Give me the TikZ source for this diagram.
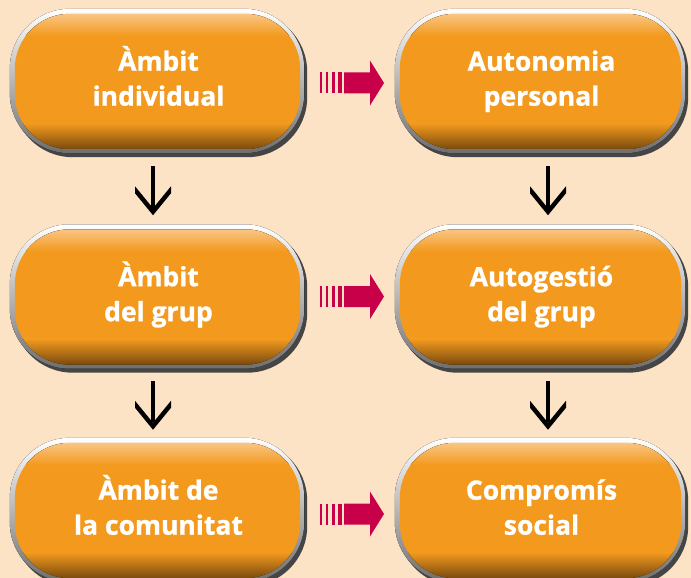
\documentclass[tikz,border=0pt]{standalone}
\usepackage{fontspec}
\setmainfont{Open Sans}
\newfontfamily\lblfont{Open Sans Bold}[FakeBold=1]
\usetikzlibrary{calc}
\pgfdeclarelayer{bg}
\pgfsetlayers{bg,main}
\definecolor{bgc}{HTML}{FDE3C5}
\definecolor{orC}{HTML}{F39A1E}
\definecolor{orL}{HTML}{F9C584}
\definecolor{orD}{HTML}{7A4A0E}
\definecolor{bdark}{HTML}{454545}
\definecolor{bgray}{HTML}{6E6E6E}
\definecolor{arrred}{HTML}{C8004A}
\newcommand\pillbg[1]{%
  \fill[bdark, rounded corners=60pt] ($(#1.north west)+(3,3)$) rectangle (#1.south east);
  \fill[top color=white, middle color=white, bottom color=bgray, rounded corners=60pt]
    (#1.north west) rectangle ($(#1.south east)+(-3,-4)$);
  \begin{scope}
    \clip[rounded corners=55pt] ($(#1.north west)+(5,5)$) rectangle ($(#1.south east)+(-7,-8)$);
    \fill[orC] (#1.north west) rectangle (#1.south east);
    \fill[top color=orL, bottom color=orC] ($(#1.north west)+(0,5)$) rectangle ($(#1.north east)+(0,27)$);
    \fill[top color=orC, bottom color=orD] ($(#1.south west)+(0,-34)$) rectangle ($(#1.south east)+(0,-8)$);
  \end{scope}}
\begin{document}
\begin{tikzpicture}[x=1pt,y=-1pt,
  pill/.style={rectangle, minimum width=297pt, minimum height=148pt, inner sep=0pt},
  pillB/.style={pill, minimum width=293pt},
  lbl/.style={text=white, font=\lblfont\fontsize{26.5}{35}\selectfont, align=center, inner sep=0pt},
  downarr/.pic={
    \fill[black] (-2,-24.5) rectangle (2,17);
    \fill[black] (-18,2.5) -- (0,24.5) -- (18,2.5) -- (18,-4.5) -- (0,17.5) -- (-18,-4.5) -- cycle;
  },
  redarr/.pic={
    \fill[arrred] (-32,-10.5) rectangle (-29.6,10.5);
    \fill[arrred] (-26.3,-10.5) rectangle (-23.6,10.5);
    \fill[arrred] (-20.2,-10.5) rectangle (-17.1,10.5);
    \fill[arrred] (-14,-10.5) rectangle (-9.7,10.5);
    \fill[arrred] (-8,-10.5) -- (18,-10.5) -- (18,-22.5) -- (32,0) -- (18,22.5) -- (18,10.5) -- (-8,10.5) -- cycle;
  }]
\useasboundingbox (0,0) rectangle (691,578);

\node[pill]  (A1) at (158.5,83) {};
\node[pill]  (A2) at (158.5,298.5) {};
\node[pill]  (A3) at (158.5,512) {};
\node[pillB] (B1) at (541.5,83) {};
\node[pillB] (B2) at (541.5,298.5) {};
\node[pillB] (B3) at (541.5,512) {};

\begin{pgfonlayer}{bg}
  \fill[bgc] (0,0) rectangle (691,578);
  \pillbg{A1}\pillbg{A2}\pillbg{A3}
  \pillbg{B1}\pillbg{B2}\pillbg{B3}
\end{pgfonlayer}

\node[lbl] (A1t) at ($(A1.center)+(0,-4)$) {\vphantom{À}Àmbit\\individual\vphantom{p}};
\node[lbl] (A2t) at ($(A2.center)+(0,-4)$) {\vphantom{À}Àmbit\\del grup\vphantom{p}};
\node[lbl] (A3t) at ($(A3.center)+(0,-4)$) {\vphantom{À}Àmbit de\\la comunitat\vphantom{p}};
\node[lbl] (B1t) at ($(B1.center)+(0,-4)$) {\vphantom{À}Autonomia\\personal\vphantom{p}};
\node[lbl] (B2t) at ($(B2.center)+(0,-4)$) {\vphantom{À}Autogestió\\del grup\vphantom{p}};
\node[lbl] (B3t) at ($(B3.center)+(0,-4)$) {\vphantom{À}Compromís\\social\vphantom{p}};

\pic at ($(A1.east)!0.5!(B1.west)+(1,0)$) {redarr};
\pic at ($(A2.east)!0.5!(B2.west)+(1,-2)$) {redarr};
\pic at ($(A3.east)!0.5!(B3.west)+(1,2)$) {redarr};

\pic at ($(A1.south)!0.5!(A2.north)+(-5.5,0)$) {downarr};
\pic at ($(A2.south)!0.5!(A3.north)+(-5.5,0)$) {downarr};
\pic at ($(B1.south)!0.5!(B2.north)+(6.5,0)$) {downarr};
\pic at ($(B2.south)!0.5!(B3.north)+(6.5,0)$) {downarr};
\end{tikzpicture}
\end{document}
